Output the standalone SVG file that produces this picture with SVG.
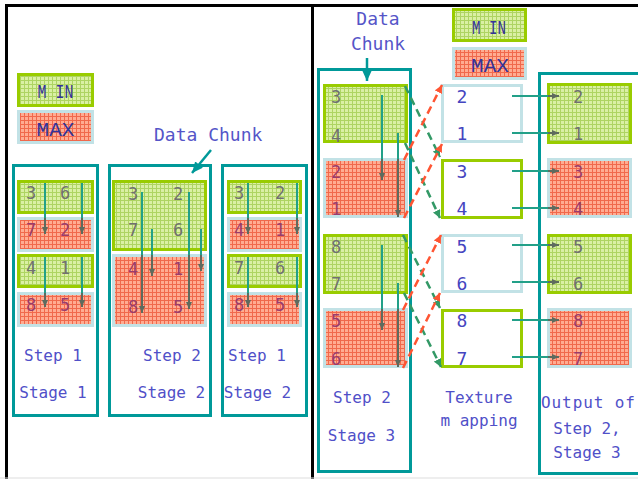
<svg xmlns="http://www.w3.org/2000/svg" width="638" height="479" viewBox="0 0 638 479">
<defs>
<pattern id="pg" width="4" height="4" patternUnits="userSpaceOnUse"><rect width="4" height="4" fill="#DAF0A4"/><path d="M0 0.5H4M0.5 0V4" stroke="#AED462" stroke-width="1"/></pattern>
<pattern id="pr" width="4" height="4" patternUnits="userSpaceOnUse"><rect width="4" height="4" fill="#FFAC92"/><path d="M0 0.5H4M0.5 0V4" stroke="#F0694C" stroke-width="1"/></pattern>
<marker id="ad" markerUnits="userSpaceOnUse" markerWidth="7" markerHeight="6" refX="7" refY="3" orient="auto"><path d="M0,0L7,3L0,6z" fill="#5E6B5E"/></marker>
<marker id="at" markerUnits="userSpaceOnUse" markerWidth="11" markerHeight="10" refX="11" refY="5" orient="auto"><path d="M0,0L11,5L0,10z" fill="#009999"/></marker>
<marker id="ag" markerUnits="userSpaceOnUse" markerWidth="8" markerHeight="8" refX="8" refY="4" orient="auto"><path d="M0,0L8,4L0,8z" fill="#339966"/></marker>
<marker id="ar" markerUnits="userSpaceOnUse" markerWidth="8" markerHeight="8" refX="8" refY="4" orient="auto"><path d="M0,0L8,4L0,8z" fill="#FF5533"/></marker>
</defs>
<style>
.mn{fill:url(#pg);stroke:#99CC00;stroke-width:3}
.mx{fill:url(#pr);stroke:#C2E2E6;stroke-width:3}
.stg{fill:#fff;stroke:#009999;stroke-width:3}
.tb{fill:#fff;stroke:#C2E2E6;stroke-width:3}
.tg{fill:#fff;stroke:#99CC00;stroke-width:3}
.lg{font-family:"Liberation Mono","DejaVu Sans Mono",monospace;font-size:21px;fill:#333399;text-anchor:middle}
.lb{font-family:"DejaVu Sans Mono",monospace;font-size:16px;fill:#5050C8;text-anchor:middle}
.dc{font-family:"DejaVu Sans Mono",monospace;font-size:18px;fill:#5555C8}
.ng{font-family:"DejaVu Sans Mono",monospace;font-size:17px;fill:#707070;text-anchor:middle}
.nr{font-family:"DejaVu Sans Mono",monospace;font-size:17px;fill:#9A3C6C;text-anchor:middle}
.nb{font-family:"DejaVu Sans Mono",monospace;font-size:18px;fill:#4545C0;text-anchor:middle}
.t{stroke:#22A088;stroke-width:2;fill:none}
.d{stroke:#5E6B5E;stroke-width:2;fill:none;marker-end:url(#ad)}
.gd{stroke:#339966;stroke-width:2.5;stroke-dasharray:8 5;fill:none;marker-end:url(#ag)}
.rd{stroke:#FF5533;stroke-width:2.5;stroke-dasharray:8 5;fill:none;marker-end:url(#ar)}
.ta{stroke:#009999;stroke-width:2.5;fill:none;marker-end:url(#at)}
</style>
<rect width="638" height="479" fill="#fff"/>
<g id="frames">
<rect x="6.5" y="5.5" width="306" height="500" fill="none" stroke="#000" stroke-width="3"/>
<line x1="312" y1="5.5" x2="638" y2="5.5" stroke="#000" stroke-width="3"/>
<line x1="0" y1="478" x2="638" y2="478" stroke="#DDDDDD" stroke-width="1"/>
</g>
<g id="legend-left">
<rect class="mn" x="18.5" y="74.5" width="74" height="31"/>
<text class="lg" x="55.5" y="98" textLength="36" lengthAdjust="spacingAndGlyphs">M IN</text>
<rect class="mx" x="18.5" y="111.5" width="74" height="31"/>
<text class="lg" x="55.5" y="136">MAX</text>
</g>
<g id="label-datachunk-left">
<text class="dc" x="154" y="141">Data Chunk</text>
</g>
<g id="step1-stage1">
<rect class="stg" x="13.5" y="165.5" width="84" height="250"/>
<rect class="mn" x="18.5" y="181.5" width="74" height="31"/>
<rect class="mx" x="18.5" y="218.5" width="74" height="32"/>
<rect class="mn" x="18.5" y="255.5" width="74" height="31"/>
<rect class="mx" x="18.5" y="293.5" width="74" height="32"/>
<text class="ng" x="31" y="199">3</text><text class="ng" x="65" y="199">6</text>
<text class="nr" x="31" y="236">7</text><text class="nr" x="65" y="236">2</text>
<text class="ng" x="31" y="274">4</text><text class="ng" x="65" y="274">1</text>
<text class="nr" x="31" y="311">8</text><text class="nr" x="65" y="311">5</text>
<path class="t" d="M45 183V218M82 183V218M45 257V293M82 257V293"/>
<path class="d" d="M45 218V234"/><path class="d" d="M82 218V234"/>
<path class="d" d="M45 293V307"/><path class="d" d="M82 293V307"/>
<text class="lb" x="53" y="361">Step 1</text>
<text class="lb" x="53" y="398">Stage 1</text>
</g>
<g id="step2-stage2">
<rect class="stg" x="109.5" y="165.5" width="101" height="250"/>
<rect class="mn" x="113.5" y="181.5" width="92" height="68"/>
<rect class="mx" x="113.5" y="255.5" width="92" height="70"/>
<text class="ng" x="133" y="200">3</text><text class="ng" x="178" y="200">2</text>
<text class="ng" x="133" y="236">7</text><text class="ng" x="178" y="236">6</text>
<text class="nr" x="133" y="275">4</text><text class="nr" x="178" y="275">1</text>
<text class="nr" x="133" y="313">8</text><text class="nr" x="178" y="313">5</text>
<path class="t" d="M142 192V255M189 192V255M152 229V255M201 229V255"/>
<path class="d" d="M142 255V313"/><path class="d" d="M189 255V309"/>
<path class="d" d="M152 255V276"/><path class="d" d="M201 255V271"/>
<text class="lb" x="172" y="361">Step 2</text>
<text class="lb" x="171.5" y="398">Stage 2</text>
</g>
<g id="step1-stage2">
<rect class="stg" x="222.5" y="165.5" width="84" height="250"/>
<rect class="mn" x="228.5" y="181.5" width="72" height="31"/>
<rect class="mx" x="228.5" y="218.5" width="72" height="32"/>
<rect class="mn" x="228.5" y="255.5" width="72" height="31"/>
<rect class="mx" x="228.5" y="293.5" width="72" height="32"/>
<text class="ng" x="239" y="199">3</text><text class="ng" x="280" y="199">2</text>
<text class="nr" x="239" y="236">4</text><text class="nr" x="280" y="236">1</text>
<text class="ng" x="239" y="274">7</text><text class="ng" x="280" y="274">6</text>
<text class="nr" x="239" y="311">8</text><text class="nr" x="280" y="311">5</text>
<path class="t" d="M248 183V218M297 183V218M248 257V293M297 257V293"/>
<path class="d" d="M248 218V234"/><path class="d" d="M297 218V234"/>
<path class="d" d="M248 293V307"/><path class="d" d="M297 293V307"/>
<text class="lb" x="257" y="361">Step 1</text>
<text class="lb" x="257.5" y="398">Stage 2</text>
</g>
<g id="legend-right">
<rect class="mn" x="453.5" y="9.5" width="72" height="31"/>
<text class="lg" x="489" y="34" textLength="34" lengthAdjust="spacingAndGlyphs">M IN</text>
<rect class="mx" x="453.5" y="48.5" width="72" height="30"/>
<text class="lg" x="490" y="72">MAX</text>
</g>
<g id="label-datachunk-right">
<text class="dc" x="378" y="25" text-anchor="middle">Data</text>
<text class="dc" x="378" y="50" text-anchor="middle">Chunk</text>
</g>
<g id="step2-stage3">
<rect class="stg" x="318.5" y="69.5" width="92" height="402"/>
<rect class="mn" x="324.5" y="85.5" width="82" height="56"/>
<rect class="mx" x="324.5" y="159.5" width="82" height="57"/>
<rect class="mn" x="324.5" y="235.5" width="82" height="57"/>
<rect class="mx" x="324.5" y="309.5" width="82" height="57"/>
<text class="ng" x="336" y="103">3</text><text class="ng" x="336" y="142">4</text>
<text class="nr" x="336" y="178">2</text><text class="nr" x="336" y="215">1</text>
<text class="ng" x="336" y="253">8</text><text class="ng" x="336" y="290">7</text>
<text class="nr" x="336" y="327">5</text><text class="nr" x="336" y="365">6</text>
<path class="t" d="M382 95V159M398 133V159M382 245V309M398 283V309"/>
<path class="d" d="M382 159V180"/><path class="d" d="M398 159V217"/>
<path class="d" d="M382 309V330"/><path class="d" d="M398 309V367"/>
<text class="lb" x="362" y="403">Step 2</text>
<text class="lb" x="361.5" y="441">Stage 3</text>
</g>
<g id="texture-mapping">
<rect class="tb" x="442.5" y="85.5" width="79" height="56"/>
<rect class="tg" x="442.5" y="160.5" width="79" height="57"/>
<rect class="tb" x="442.5" y="235.5" width="79" height="56"/>
<rect class="tg" x="442.5" y="310.5" width="79" height="56"/>
<text class="nb" x="462" y="103">2</text><text class="nb" x="462" y="140">1</text>
<text class="nb" x="462" y="178">3</text><text class="nb" x="462" y="215">4</text>
<text class="nb" x="462" y="253">5</text><text class="nb" x="462" y="290">6</text>
<text class="nb" x="462" y="327">8</text><text class="nb" x="462" y="365">7</text>
<text class="lb" x="479" y="403" font-size="17">Texture</text>
<text class="lb" x="479" y="426" font-size="17">m apping</text>
</g>
<g id="output">
<rect class="stg" x="539.5" y="73.5" width="110" height="400"/>
<rect class="mn" x="548.5" y="84.5" width="82" height="58"/>
<rect class="mx" x="548.5" y="159.5" width="82" height="57"/>
<rect class="mn" x="548.5" y="235.5" width="82" height="57"/>
<rect class="mx" x="548.5" y="309.5" width="82" height="57"/>
<text class="ng" x="578" y="103">2</text><text class="ng" x="578" y="140">1</text>
<text class="nr" x="578" y="178">3</text><text class="nr" x="578" y="215">4</text>
<text class="ng" x="578" y="253">5</text><text class="ng" x="578" y="290">6</text>
<text class="nr" x="578" y="327">8</text><text class="nr" x="578" y="365">7</text>
<text class="lb" x="588" y="408" textLength="94">Output of</text>
<text class="lb" x="587" y="434">Step 2,</text>
<text class="lb" x="587" y="458">Stage 3</text>
</g>
<g id="connectors">
<path class="ta" d="M211 150L192 173"/>
<path class="ta" d="M367 58V81"/>
<path class="gd" d="M405 86L440 157"/>
<path class="gd" d="M405 143L440 218"/>
<path class="gd" d="M403 235L440 308"/>
<path class="gd" d="M404 293L441 367"/>
<path class="rd" d="M404 160L442 85"/>
<path class="rd" d="M404 218L442 144"/>
<path class="rd" d="M403 310L441 235"/>
<path class="rd" d="M403 368L440 293"/>
<path class="t" d="M512 96H548M512 133H548M512 171H548M512 208H548M512 245H548M512 282H548M512 320H548M512 357H548"/>
<path class="d" d="M548 96H559"/><path class="d" d="M548 133H559"/>
<path class="d" d="M548 171H559"/><path class="d" d="M548 208H559"/>
<path class="d" d="M548 245H559"/><path class="d" d="M548 282H559"/>
<path class="d" d="M548 320H559"/><path class="d" d="M548 357H559"/>
</g>
</svg>
